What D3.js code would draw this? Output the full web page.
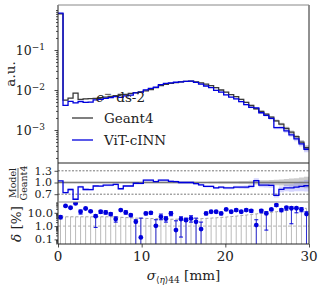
<!DOCTYPE html>
<html>
<head>
<meta charset="utf-8">
<script src="https://cdn.jsdelivr.net/npm/d3@7"></script>
<style>
body{margin:0;background:#fff;}
text{font-family:"DejaVu Serif",serif;fill:#222;}
</style>
</head>
<body>
<script>
// histogram values, 50 bins from 0 to 30 mm
var geant4 = [0.80, 0.0056, 0.0063, 0.0084, 0.0058, 0.0060, 0.0061, 0.0062, 0.0064, 0.0066,
  0.0069, 0.0072, 0.0078, 0.0078, 0.0082, 0.0086, 0.0090, 0.0095, 0.0103, 0.0115,
  0.0128, 0.0138, 0.0146, 0.0153, 0.0160, 0.0165, 0.0166, 0.0160, 0.0150, 0.0140,
  0.0128, 0.0114, 0.0100, 0.0088, 0.0077, 0.0068, 0.0058, 0.0049, 0.0041, 0.0034,
  0.0029, 0.0025, 0.0021, 0.0017, 0.0014, 0.0011, 0.00088, 0.00068, 0.00050, 0.00036];
var vit = [0.832, 0.00414, 0.00517, 0.00479, 0.00516, 0.00492, 0.00500, 0.00564, 0.00582, 0.00614,
  0.00642, 0.00684, 0.00655, 0.00710, 0.00746, 0.00843, 0.00882, 0.01007, 0.01092, 0.01173,
  0.01357, 0.01463, 0.01504, 0.01561, 0.0160, 0.0165, 0.0166, 0.01552, 0.0141, 0.0126,
  0.01152, 0.0098, 0.0088, 0.00757, 0.00662, 0.00598, 0.00510, 0.00431, 0.00369, 0.00357,
  0.00270, 0.00233, 0.00195, 0.00114, 0.00115, 0.000946, 0.000757, 0.000598, 0.00045, 0.00033];
// relative uncertainties
var g4Err = [0.005, 0.02, 0.02, 0.02, 0.02, 0.02, 0.02, 0.02, 0.02, 0.02,
  0.02, 0.02, 0.02, 0.02, 0.02, 0.02, 0.02, 0.02, 0.02, 0.02,
  0.02, 0.02, 0.02, 0.02, 0.02, 0.02, 0.02, 0.02, 0.02, 0.02,
  0.025, 0.025, 0.03, 0.03, 0.03, 0.035, 0.04, 0.04, 0.045, 0.05,
  0.055, 0.06, 0.065, 0.07, 0.08, 0.09, 0.1, 0.11, 0.13, 0.15];
var vitErr = [0.005, 0.03, 0.03, 0.03, 0.03, 0.03, 0.03, 0.03, 0.03, 0.03,
  0.03, 0.03, 0.03, 0.03, 0.03, 0.03, 0.03, 0.03, 0.03, 0.03,
  0.03, 0.03, 0.03, 0.03, 0.03, 0.03, 0.03, 0.03, 0.03, 0.03,
  0.03, 0.03, 0.035, 0.035, 0.04, 0.04, 0.045, 0.05, 0.05, 0.055,
  0.06, 0.065, 0.07, 0.08, 0.09, 0.1, 0.11, 0.12, 0.14, 0.16];
// delta [%] per bin with error range
var delta = [4.7, 33, 24, 51, 12, 21, 13, 5.6, 12, 10.7,
  8, 3.4, 16, 10.7, 6.7, 2.1, 0.14, 9, 10, 1.05,
  5, 3.6, 9, 0.5, 3.4, 2.8, 3.8, 2.1, 0.6, 9,
  12, 12, 9, 18, 12, 16, 12, 16, 14, 1.2,
  14, 9, 18, 38, 16, 24, 22, 22, 18, 8];
var deltaLo = [3.5, 30, 21, 47, 8, 19, 11, 0.8, 9, 8,
  6, 2, 14, 8, 5, 0.01, 0.01, 7, 8, 0.01,
  3, 2, 6, 0.01, 0.15, 0.01, 2, 0.01, 0.01, 7,
  10, 10, 7, 15, 10, 13, 10, 13, 11, 0.01,
  10, 0.5, 15, 30, 12, 16, 1.5, 10, 12, 0.01];
var deltaHi = [6, 36, 27, 55, 16, 23, 15, 7, 15, 14,
  10, 5, 18, 14, 8, 3, 4, 11, 12, 3,
  8, 5, 12, 2.5, 5, 4, 6, 4, 2, 11,
  14, 14, 11, 21, 14, 19, 14, 19, 17, 3,
  18, 12, 21, 45, 20, 30, 28, 26, 24, 12];
// statistical threshold per bin (grey lines)
var thresh = [5, 5, 5, 5, 5, 5, 5, 5, 5, 5,
  5, 4.8, 4.6, 4.4, 4.2, 4, 3.9, 3.8, 3.7, 3.6,
  3.5, 3.4, 3.3, 3.3, 3.3, 3.3, 3.4, 3.5, 3.6, 3.8,
  4, 4.2, 4.5, 4.8, 5.2, 5.6, 6.2, 6.8, 7.5, 8.3,
  9.2, 10, 11, 12, 13.5, 15, 16.5, 18, 20, 22];

var edges = d3.range(51).map(function(i){ return i*0.6; });
var centers = d3.range(50).map(function(i){ return 0.3 + i*0.6; });
var ratio = vit.map(function(v,i){ return v/geant4[i]; });

var W = 324, H = 288;
var L = 58, R = 309;
var svg = d3.select("body").append("svg").attr("width",W).attr("height",H);

var x = d3.scaleLinear().domain([0,30]).range([L,R]);
var yMain = d3.scaleLog().domain([Math.pow(10,-3.825), Math.pow(10,0.125)]).range([163,5]);
var yRat = d3.scaleLinear().domain([0.5,1.5]).range([202,163]);
var yDel = d3.scaleLog().domain([0.045,65]).range([244,202]);

var blue = "#0000dd";

// clip paths
function clip(id, y0, y1){
  svg.append("clipPath").attr("id",id).append("rect")
    .attr("x",L).attr("y",y0).attr("width",R-L).attr("height",y1-y0);
}
clip("cMain",5,163); clip("cRat",163,202); clip("cDel",202,244);

function stepPts(vals){
  var p = vals.map(function(v,i){ return [edges[i], v]; });
  p.push([30, vals[vals.length-1]]);
  return p;
}

// ---------- main panel
var gMain = svg.append("g").attr("clip-path","url(#cMain)");

// legend title (drawn below the curves)
var title = svg.append("text").attr("x",96).attr("y",102).style("font-size","13.5px");
title.append("tspan").style("font-style","italic").text("e");
title.append("tspan").attr("dy",-5).style("font-size","9.5px").text("\u2212");
title.append("tspan").attr("dy",5).text(" ds-2");

var area = d3.area().curve(d3.curveStepAfter)
  .x(function(d){ return x(d[0]); });

function band(g, vals, errs, sy, color, op){
  var pts = stepPts(vals.map(function(v,i){ return [v*(1-errs[i]), v*(1+errs[i])]; }));
  g.append("path").datum(pts)
    .attr("d", area.y0(function(d){ return sy(d[1][0]); }).y1(function(d){ return sy(d[1][1]); }))
    .attr("fill",color).attr("opacity",op);
}
band(gMain, geant4, g4Err, yMain, "#999", 0.5);
band(gMain, vit, vitErr, yMain, "#8888ff", 0.35);

var line = d3.line().curve(d3.curveStepAfter).x(function(d){ return x(d[0]); });
gMain.append("path").datum(stepPts(geant4))
  .attr("d", line.y(function(d){ return yMain(d[1]); }))
  .attr("fill","none").attr("stroke","#3a3a3a").attr("stroke-width",1.3);
gMain.append("path").datum(stepPts(vit))
  .attr("d", line.y(function(d){ return yMain(d[1]); }))
  .attr("fill","none").attr("stroke",blue).attr("stroke-width",1.3);

// legend
svg.append("line").attr("x1",72).attr("x2",93).attr("y1",118).attr("y2",118).attr("stroke","#3a3a3a").attr("stroke-width",1.3);
svg.append("text").attr("x",104).attr("y",123).style("font-size","13.5px").text("Geant4");
svg.append("line").attr("x1",72).attr("x2",93).attr("y1",140).attr("y2",140).attr("stroke",blue).attr("stroke-width",1.3);
svg.append("text").attr("x",104).attr("y",145).style("font-size","13.5px").text("ViT-cINN");

// main y axis
svg.append("g").attr("transform","translate("+L+",0)")
  .call(d3.axisLeft(yMain).tickValues([1e-3,1e-2,1e-1]).tickSize(3.5).tickFormat(""));
var minors = [];
[-4,-3,-2,-1,0].forEach(function(k){
  for (var m=2;m<10;m++){ var v=m*Math.pow(10,k); if (v>yMain.domain()[0] && v<yMain.domain()[1]) minors.push(v); }
});
minors.push(1);
svg.append("g").attr("transform","translate("+L+",0)")
  .call(d3.axisLeft(yMain).tickValues(minors).tickSize(2).tickFormat(""));
[[1e-1,"\u22121"],[1e-2,"\u22122"],[1e-3,"\u22123"]].forEach(function(t){
  var tx = svg.append("text").attr("x",45).attr("y",yMain(t[0])+4.5)
    .attr("text-anchor","end").style("font-size","12.5px");
  tx.append("tspan").text("10");
  tx.append("tspan").attr("dy",-5).style("font-size","9px").text(t[1]);
});
svg.selectAll(".domain").remove();

svg.append("text").attr("transform","translate(15,74) rotate(-90)")
  .attr("text-anchor","middle").style("font-size","13.5px").text("a.u.");

// ---------- ratio panel
var gRat = svg.append("g").attr("clip-path","url(#cRat)");
band(gRat, geant4.map(function(){ return 1; }), g4Err, yRat, "#999", 0.5);
band(gRat, ratio, vitErr, yRat, "#8888ff", 0.35);
[1.3,0.7].forEach(function(v){
  gRat.append("line").attr("x1",L).attr("x2",R).attr("y1",yRat(v)).attr("y2",yRat(v))
    .attr("stroke","#555").attr("stroke-width",0.8).attr("stroke-dasharray","2,1.5");
});
gRat.append("line").attr("x1",L).attr("x2",R).attr("y1",yRat(1)).attr("y2",yRat(1))
  .attr("stroke","#777").attr("stroke-width",1.5);
gRat.append("path").datum(stepPts(ratio))
  .attr("d", line.y(function(d){ return yRat(d[1]); }))
  .attr("fill","none").attr("stroke",blue).attr("stroke-width",1.3);

svg.append("g").attr("transform","translate("+L+",0)")
  .call(d3.axisLeft(yRat).tickValues([0.7,1.0,1.3]).tickSize(3.5).tickFormat(""))
  .select(".domain").remove();
[0.7,1.0,1.3].forEach(function(v){
  svg.append("text").attr("x",52).attr("y",yRat(v)+3.8).attr("text-anchor","end")
    .style("font-size","11px").text(v.toFixed(1));
});
var frac = svg.append("g").attr("transform","translate(18,183) rotate(-90)");
frac.append("text").attr("x",0).attr("y",-2.5).attr("text-anchor","middle").style("font-size","9.5px").text("Model");
frac.append("line").attr("x1",-15).attr("x2",15).attr("y1",0).attr("y2",0).attr("stroke","#222").attr("stroke-width",0.7);
frac.append("text").attr("x",0).attr("y",8.5).attr("text-anchor","middle").style("font-size","9.5px").text("Geant4");

// ---------- delta panel
var gDel = svg.append("g").attr("clip-path","url(#cDel)");
gDel.selectAll("line.thr").data(centers).enter().append("line")
  .attr("x1",function(d){ return x(d); }).attr("x2",function(d){ return x(d); })
  .attr("y1",244).attr("y2",function(d,i){ return yDel(thresh[i]); })
  .attr("stroke","#bbb").attr("stroke-width",1);
gDel.append("path").datum(centers)
  .attr("d", d3.line().x(function(d){ return x(d); }).y(function(d,i){ return yDel(thresh[i]); }))
  .attr("fill","none").attr("stroke","#999").attr("stroke-width",0.9).attr("stroke-dasharray","3,2");
gDel.append("line").attr("x1",L).attr("x2",R).attr("y1",yDel(1)).attr("y2",yDel(1))
  .attr("stroke","#aaa").attr("stroke-width",0.9).attr("stroke-dasharray","3,2");
// error bars
centers.forEach(function(c,i){
  var cx = x(c), ylo = yDel(deltaLo[i]), yhi = yDel(deltaHi[i]);
  gDel.append("line").attr("x1",cx).attr("x2",cx).attr("y1",ylo).attr("y2",yhi)
    .attr("stroke",blue).attr("stroke-width",1).attr("opacity",0.75);
  [ylo,yhi].forEach(function(yy){
    gDel.append("line").attr("x1",cx-2).attr("x2",cx+2).attr("y1",yy).attr("y2",yy)
      .attr("stroke",blue).attr("stroke-width",1);
  });
});
gDel.selectAll("circle").data(delta).enter().append("circle")
  .attr("cx",function(d,i){ return x(centers[i]); })
  .attr("cy",function(d){ return yDel(d); })
  .attr("r",2.4).attr("fill",blue);

svg.append("g").attr("transform","translate("+L+",0)")
  .call(d3.axisLeft(yDel).tickValues([0.1,1,10]).tickSize(3.5).tickFormat(""))
  .select(".domain").remove();
var dmin = [];
[-2,-1,0,1].forEach(function(k){
  for (var m=2;m<10;m++){ var v=m*Math.pow(10,k); if (v>0.045 && v<65) dmin.push(v); }
});
svg.append("g").attr("transform","translate("+L+",0)")
  .call(d3.axisLeft(yDel).tickValues(dmin).tickSize(2).tickFormat(""))
  .select(".domain").remove();
[0.1,1,10].forEach(function(v){
  svg.append("text").attr("x",53).attr("y",yDel(v)+4).attr("text-anchor","end")
    .style("font-size","11.5px").text(v.toFixed(1));
});
var dl = svg.append("text").attr("transform","translate(21,224) rotate(-90)")
  .attr("text-anchor","middle").style("font-size","13.5px");
dl.append("tspan").style("font-style","italic").text("\u03b4");
dl.append("tspan").text(" [%]");

// x axis
svg.append("g").attr("transform","translate(0,244)")
  .call(d3.axisBottom(x).tickValues([0,10,20,30]).tickSize(3.5).tickFormat(""))
  .select(".domain").remove();
[0,10,20,30].forEach(function(v){
  svg.append("text").attr("x",x(v)).attr("y",261).attr("text-anchor","middle")
    .style("font-size","13.5px").text(v);
});
var xl = svg.append("text").attr("x",183.5).attr("y",280).attr("text-anchor","middle").style("font-size","13.5px");
xl.append("tspan").style("font-style","italic").text("\u03c3");
xl.append("tspan").attr("dy",3).style("font-size","9px").text("\u27e8");
xl.append("tspan").style("font-size","9px").style("font-style","italic").text("\u03b7");
xl.append("tspan").style("font-size","9px").text("\u27e944");
xl.append("tspan").attr("dy",-3).text(" [mm]");

// frames
svg.selectAll(".tick line").attr("stroke","#222").attr("stroke-width",0.8);
function vline(xx,y0,y1,c){ svg.append("line").attr("x1",xx).attr("x2",xx).attr("y1",y0).attr("y2",y1).attr("stroke",c).attr("stroke-width",1); }
function hline(yy,c){ svg.append("line").attr("x1",L).attr("x2",R).attr("y1",yy).attr("y2",yy).attr("stroke",c).attr("stroke-width",1); }
vline(L,5,244,"#222"); vline(R,5,244,"#222");
hline(5,"#888"); hline(163,"#222"); hline(202,"#888"); hline(244,"#222");
</script>
</body>
</html>
